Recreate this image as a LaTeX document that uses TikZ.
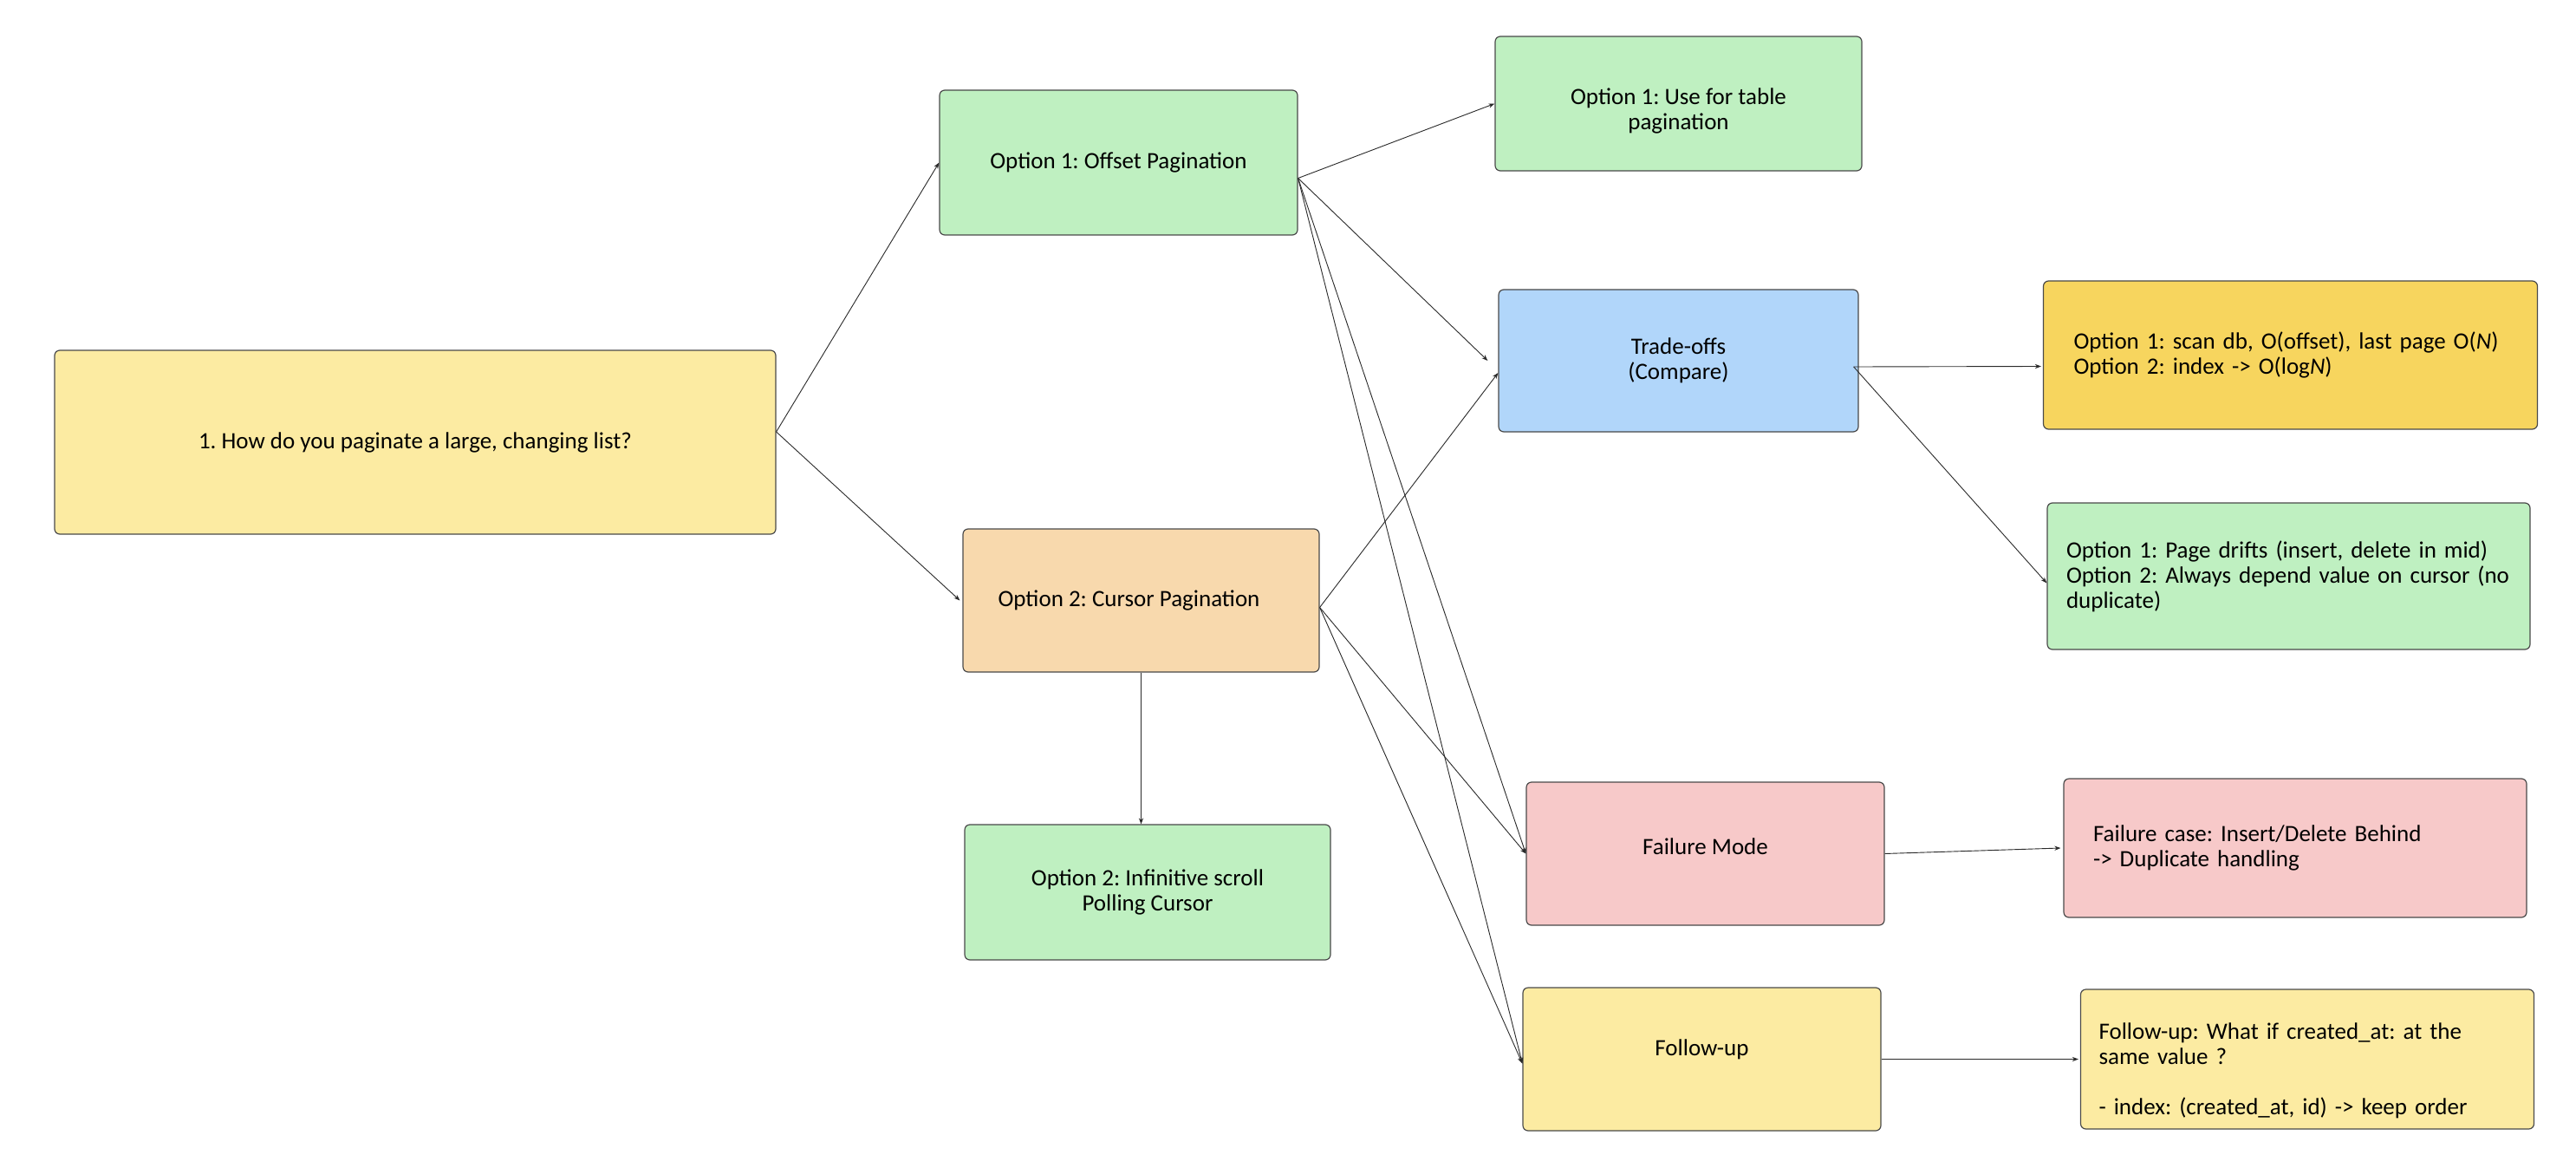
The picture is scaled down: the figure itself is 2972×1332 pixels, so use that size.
\documentclass[tikz,border=0pt]{standalone}
\usepackage{fontspec}
\setmainfont{Carlito}
\usetikzlibrary{arrows.meta,calc}
\definecolor{cyellow}{HTML}{FCEBA2}
\definecolor{cgreen}{HTML}{BFF0C1}
\definecolor{cblue}{HTML}{B1D6FA}
\definecolor{corange}{HTML}{F8D9AD}
\definecolor{cgold}{HTML}{F7D55E}
\definecolor{cpink}{HTML}{F7C9C9}
\definecolor{boxline}{HTML}{4A4A4A}
\definecolor{lineclr}{HTML}{2A2A2A}
\frenchspacing
\begin{document}
\begin{tikzpicture}[x=0.5pt,y=-0.5pt,
  box/.style={draw=boxline, line width=0.6pt, rounded corners=3pt, inner sep=0pt,
    font=\fontsize{13.5}{14.5}\selectfont, align=center, text=black},
  lbox/.style={box, align=left},
  conn/.style={draw=lineclr, line width=0.45pt, -{Stealth[length=3.5pt,width=2.6pt]}},
]
\useasboundingbox[fill=white] (0,0) rectangle (2972,1332);

% nodes
\node[box, fill=cyellow, minimum width=416pt, minimum height=106pt] (main) at (479,510)
  {1. How do you paginate a large, changing list?};
\node[box, fill=cgreen, minimum width=206.5pt, minimum height=83.5pt] (off) at (1290.5,187.5)
  {Option 1: Offset Pagination};
\node[box, fill=cgreen, minimum width=211.5pt, minimum height=77.5pt] (tbl) at (1936.5,119.5)
  {\rule{0pt}{18pt}Option 1: Use for table\\pagination};
\node[box, fill=cblue, minimum width=207.5pt, minimum height=82pt] (tr) at (1936.5,416)
  {Trade-offs\\(Compare)};
\node[lbox, fill=cgold, text width=250pt, inner xsep=17.5pt, minimum height=85.5pt] (gold) at (2642.5,409.5)
  {Option 1: scan db, O(offset), last page O(\textit{N})\\Option 2: index -> O(log\textit{N})};
\node[lbox, fill=cgreen, text width=256.5pt, inner xsep=11pt, minimum height=84.5pt] (drift) at (2640.5,664.5)
  {Option 1: Page drifts (insert, delete in mid)\\Option 2: Always depend value on cursor (no\\duplicate)};
\node[box, fill=corange, minimum width=205.5pt, minimum height=82.5pt] (cur) at (1316.5,692.5)
  {Option 2: Cursor Pagination\hspace*{14pt}};
\node[box, fill=cgreen, minimum width=211pt, minimum height=78pt] (inf) at (1324,1029)
  {Option 2: Infinitive scroll\\Polling Cursor};
\node[box, fill=cpink, minimum width=206.5pt, minimum height=82.5pt] (fm) at (1967.5,984.5)
  {Failure Mode\rule[-8pt]{0pt}{8pt}};
\node[lbox, fill=cpink, text width=233pt, inner xsep=17pt, minimum height=80pt] (fc) at (2648,978)
  {Failure case: Insert/Delete Behind\\-> Duplicate handling};
\node[box, fill=cyellow, minimum width=206.5pt, minimum height=82.5pt] (fu) at (1963.5,1221.5)
  {Follow-up\rule[-13pt]{0pt}{13pt}};
\node[lbox, fill=cyellow, text width=240.5pt, inner xsep=10.5pt, minimum height=80.5pt] (fut) at (2662,1221.5)
  {\rule{0pt}{23pt}Follow-up: What if created\_at: at the\\same value ?\\[14.5pt]- index: (created\_at, id) -> keep order};

% connectors
\draw[conn] ([yshift=6pt]main.east) -- (off.west);
\draw[conn] ([yshift=6pt]main.east) -- ([xshift=-1.5pt]cur.west);
\draw[conn] ([yshift=-9pt]off.east) -- (tbl.west);
\draw[conn] ([yshift=-9pt]off.east) -- ([xshift=-6pt]tr.west);
\draw[conn] ([yshift=-9pt]off.east) -- (fm.west);
\draw[conn] ([yshift=-9pt]off.east) -- ([yshift=-2.5pt]fu.west);
\draw[conn] ([yshift=-4pt]cur.east) -- ([yshift=-7pt]tr.west);
\draw[conn] ([yshift=-4pt]cur.east) -- (fm.west);
\draw[conn] ([yshift=-4pt]cur.east) -- ([yshift=-2.5pt]fu.west);
\draw[conn] (cur.south) -- (cur.south |- inf.north);
\draw[conn] ([xshift=-3pt,yshift=-3.5pt]tr.east) -- ([xshift=-1pt,yshift=-6.5pt]gold.west);
\draw[conn] ([xshift=-3pt,yshift=-3.5pt]tr.east) -- ([yshift=-4pt]drift.west);
\draw[conn] (fm.east) -- ([xshift=-1.5pt]fc.west);
\draw[conn] (fu.east) -- ([xshift=-1pt]fut.west);
\end{tikzpicture}
\end{document}
